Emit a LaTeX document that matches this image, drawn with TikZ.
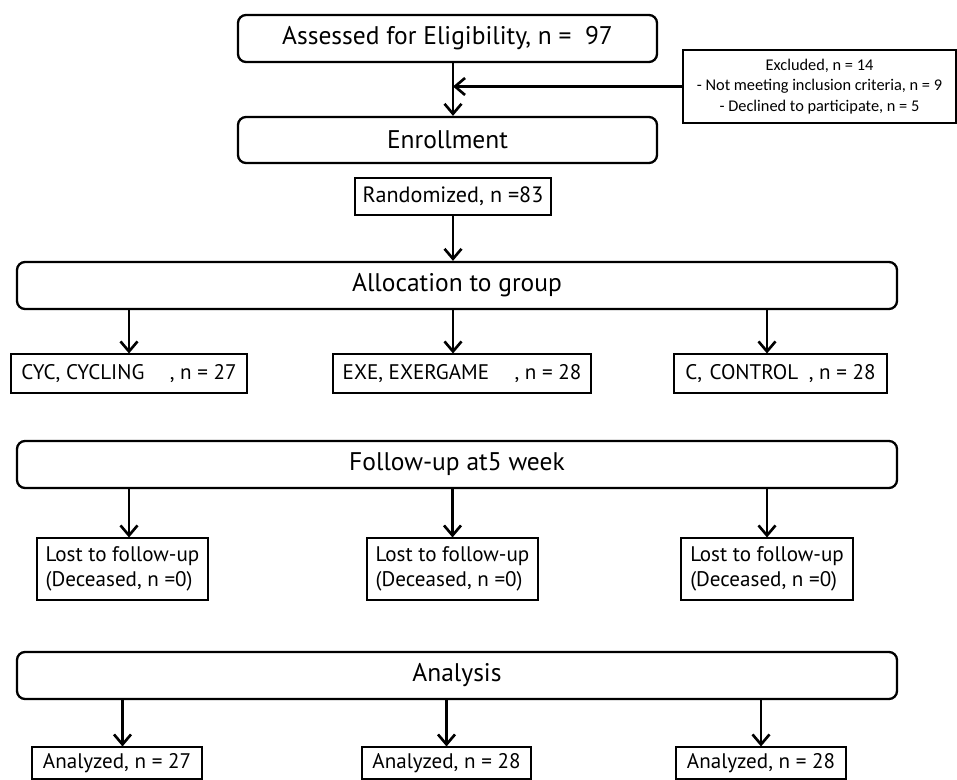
\documentclass[tikz,border=0pt]{standalone}
\usepackage{fontspec}
\setmainfont{PT Sans}
\newfontfamily\exclfont{Carlito}
\usetikzlibrary{arrows.meta}

\begin{document}
\begin{tikzpicture}[
		stage/.style={shape=rectangle, draw, rounded corners=0.16cm, line width=1.3pt, inner sep=0pt, minimum width=17.6cm, minimum height=0.94cm, font=\fontsize{14.5}{17}\selectfont},
		grp/.style={shape=rectangle, draw, line width=0.6pt, inner sep=0pt, minimum height=0.78cm, font=\fontsize{12}{14.5}\selectfont},
		flow/.style={line width=1.5pt, -{Straight Barb[length=2mm, width=3.4mm, line width=1.5pt]}}
	]
	\useasboundingbox (0, 0) rectangle (19.14, -15.6);
	% Stages:
	\node[stage, minimum width=8.38cm](assess) at (8.95, -0.77){Assessed for Eligibility, n =\ \ 97};
	\node[stage, minimum width=8.38cm, minimum height=0.92cm](enroll) at (8.95, -2.8){Enrollment};
	\node[grp, minimum width=5.46cm, minimum height=1.46cm, align=center, font=\exclfont\fontsize{9.3}{11.5}\selectfont](excl) at (16.39, -1.73){Excluded, n = 14\\- Not meeting inclusion criteria, n = 9\\- Declined to participate, n = 5};
	\node[grp, minimum width=3.92cm, minimum height=0.74cm, font=\fontsize{12.6}{15}\selectfont](rand) at (9.06, -3.93){Randomized, n =83};
	\node[stage](alloc) at (9.14, -5.71){Allocation to group};
	\node[stage](follow) at (9.14, -9.29){Follow-up at5 week};
	\node[stage](analysis) at (9.14, -13.51){Analysis};
	% Groups:
	\node[grp, minimum width=4.72cm](cyc) at (2.58, -7.47){CYC, CYCLING\hspace{1.2em}, n = 27};
	\node[grp, minimum width=5.16cm](exe) at (9.24, -7.47){EXE, EXERGAME\hspace{1.2em}, n = 28};
	\node[grp, minimum width=4.26cm](ctl) at (15.61, -7.47){C, \hspace{0.08em}CONTROL\hspace{0.5em}, n = 28};
	\node[grp, minimum width=3.42cm, minimum height=1.24cm, align=left](lost1) at (2.45, -11.38){Lost to follow-up\\(Deceased, n =0)};
	\node[grp, minimum width=3.42cm, minimum height=1.24cm, align=left](lost2) at (9.05, -11.38){Lost to follow-up\\(Deceased, n =0)};
	\node[grp, minimum width=3.44cm, minimum height=1.24cm, align=left](lost3) at (15.34, -11.38){Lost to follow-up\\(Deceased, n =0)};
	\node[grp, minimum width=3.4cm, minimum height=0.64cm](an1) at (2.34, -15.26){Analyzed, n = 27};
	\node[grp, minimum width=3.38cm, minimum height=0.64cm](an2) at (8.93, -15.26){Analyzed, n = 28};
	\node[grp, minimum width=3.4cm, minimum height=0.64cm](an3) at (15.22, -15.26){Analyzed, n = 28};
	% Connectors:
	\draw[flow] (assess.south -| rand) -- (enroll.north -| rand);
	\draw[flow] (excl.west) -- (excl.west -| rand);
	\draw[flow] (rand.south) -- (alloc.north -| rand);
	\draw[flow] (alloc.south -| cyc) -- (cyc.north);
	\draw[flow] (alloc.south -| rand) -- (exe.north -| rand);
	\draw[flow] (alloc.south -| lost3) -- (ctl.north -| lost3);
	\draw[flow] (follow.south -| cyc) -- (lost1.north -| cyc);
	\draw[flow] (follow.south -| lost2) -- (lost2.north);
	\draw[flow] (follow.south -| lost3) -- (lost3.north);
	\draw[flow] (analysis.south -| lost1) -- (an1.north -| lost1);
	\draw[flow] (analysis.south -| an2) -- (an2.north);
	\draw[flow] (analysis.south -| an3) -- (an3.north);
\end{tikzpicture}
\end{document}
